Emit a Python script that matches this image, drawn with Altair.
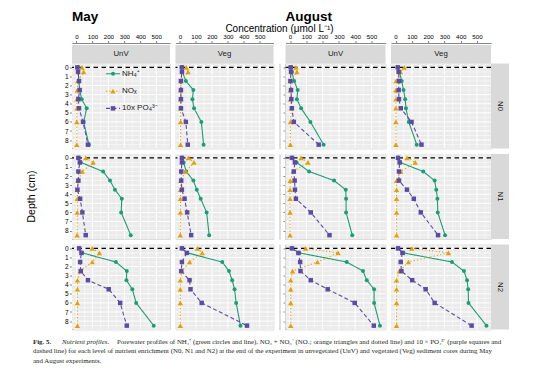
import altair as alt
import pandas as pd

# ---------------- data ----------------
depths = [0, 0.5, 1.5, 2.5, 3.5, 4.5, 6, 8.5]
months = ["May", "August"]
treatments = ["UnV", "Veg"]
levels = ["N0", "N1", "N2"]
series_names = ["NH₄⁺", "NOₓ", "10x PO₄³⁻"]

may_unv_n0_nh4 = [5, 10, 15, 20, 33, 64, 45, 78]
may_unv_n0_nox = [35, 45, 8, 5, 3, 3, 2, 2]
may_unv_n0_po4 = [6, 10, 16, 20, 12, 16, 41, 72]
may_veg_n0_nh4 = [10, 15, 37, 84, 78, 88, 134, 148]
may_veg_n0_nox = [39, 51, 6, 4, 4, 4, 4, 4]
may_veg_n0_po4 = [12, 12, 6, 6, 6, 6, 37, 49]
aug_unv_n0_nh4 = [4, 11, 25, 47, 42, 68, 125, 206]
aug_unv_n0_nox = [36, 42, 2, 2, 2, 8, 2, 2]
aug_unv_n0_po4 = [4, 6, 2, 6, 8, 11, 23, 176]
aug_veg_n0_nh4 = [13, 23, 38, 49, 59, 64, 81, 130]
aug_veg_n0_nox = [53, 30, 3, 2, 2, 2, 2, 2]
aug_veg_n0_po4 = [13, 19, 21, 19, 21, 32, 98, 159]

may_unv_n1_nh4 = [12, 27, 167, 210, 241, 284, 280, 340]
may_unv_n1_nox = [58, 105, 37, 8, 5, 5, 5, 4]
may_unv_n1_po4 = [12, 21, 12, 12, 6, 23, 37, 58]
may_veg_n1_nh4 = [12, 23, 39, 84, 105, 130, 167, 183]
may_veg_n1_nox = [53, 88, 37, 4, 3, 3, 3, 2]
may_veg_n1_po4 = [12, 12, 8, 8, 12, 29, 45, 70]
aug_unv_n1_nh4 = [11, 40, 117, 270, 342, 344, 344, 382]
aug_unv_n1_nox = [68, 110, 19, 1, 0, 0, 0, 0]
aug_unv_n1_po4 = [11, 30, 23, 28, 30, 36, 127, 242]
aug_veg_n1_nh4 = [15, 28, 170, 240, 250, 257, 259, 304]
aug_veg_n1_nox = [70, 121, 32, 6, 6, 6, 6, 6]
aug_veg_n1_po4 = [15, 25, 21, 21, 70, 112, 155, 261]

may_unv_n2_nh4 = [16, 37, 247, 315, 313, 350, 374, 484]
may_unv_n2_nox = [99, 144, 99, 23, 6, 6, 6, 6]
may_unv_n2_po4 = [16, 31, 23, 27, 72, 202, 274, 315]
may_veg_n2_nh4 = [12, 47, 265, 307, 327, 342, 352, 379]
may_veg_n2_nox = [109, 140, 60, 12, 2, 2, 2, 2]
may_veg_n2_po4 = [12, 43, 12, 8, 60, 66, 136, 420]
aug_unv_n2_nh4 = [11, 57, 348, 448, 471, 516, 516, 552]
aug_unv_n2_nox = [96, 295, 168, 15, 4, 4, 4, 4]
aug_unv_n2_po4 = [11, 51, 62, 64, 127, 231, 397, 514]
aug_veg_n2_nh4 = [15, 49, 346, 420, 439, 446, 448, 558]
aug_veg_n2_nox = [100, 325, 79, 23, 6, 6, 6, 6]
aug_veg_n2_po4 = [15, 42, 32, 36, 102, 185, 240, 467]

x_ticks = [0, 100, 200, 300, 400, 500]
y_ticks = [0, 1, 2, 3, 4, 5, 6, 7, 8]
x_grid_major = [0, 100, 200, 300, 400, 500]
x_grid_minor = [50, 150, 250, 350, 450, 550]
y_grid_major = [0, 1, 2, 3, 4, 5, 6, 7, 8]
y_grid_minor = [0.5, 1.5, 2.5, 3.5, 4.5, 5.5, 6.5, 7.5, 8.5]
surface_depth = [0]

x_title = "Concentration (μmol L⁻¹)"
y_title = "Depth (cm)"
caption_fig = "Fig. 5."
caption_head = "Nutrient profiles."
caption_l1 = ("Porewater profiles of NH₄⁺ (green circles and line), NO₂ + NO₃⁻ (NOₓ; orange "
              "triangles and dotted line) and 10 × PO₄³⁻ (purple squares and")
caption_l2 = ("dashed line) for each level of nutrient enrichment (N0, N1 and N2) at the end of the "
              "experiment in unvegetated (UnV) and vegetated (Veg) sediment cores during May")
caption_l3 = "and August experiments."

DATA = {
    ("May", "UnV", "N0"): (may_unv_n0_nh4, may_unv_n0_nox, may_unv_n0_po4),
    ("May", "Veg", "N0"): (may_veg_n0_nh4, may_veg_n0_nox, may_veg_n0_po4),
    ("August", "UnV", "N0"): (aug_unv_n0_nh4, aug_unv_n0_nox, aug_unv_n0_po4),
    ("August", "Veg", "N0"): (aug_veg_n0_nh4, aug_veg_n0_nox, aug_veg_n0_po4),
    ("May", "UnV", "N1"): (may_unv_n1_nh4, may_unv_n1_nox, may_unv_n1_po4),
    ("May", "Veg", "N1"): (may_veg_n1_nh4, may_veg_n1_nox, may_veg_n1_po4),
    ("August", "UnV", "N1"): (aug_unv_n1_nh4, aug_unv_n1_nox, aug_unv_n1_po4),
    ("August", "Veg", "N1"): (aug_veg_n1_nh4, aug_veg_n1_nox, aug_veg_n1_po4),
    ("May", "UnV", "N2"): (may_unv_n2_nh4, may_unv_n2_nox, may_unv_n2_po4),
    ("May", "Veg", "N2"): (may_veg_n2_nh4, may_veg_n2_nox, may_veg_n2_po4),
    ("August", "UnV", "N2"): (aug_unv_n2_nh4, aug_unv_n2_nox, aug_unv_n2_po4),
    ("August", "Veg", "N2"): (aug_veg_n2_nh4, aug_veg_n2_nox, aug_veg_n2_po4),
}

# ---------------- styles ----------------
SANS = "Liberation Sans"
SERIF = "Liberation Serif"
COLORS = ["#1B9E77", "#E69F00", "#5B4BA3"]
DASHES = [[1, 0], [1.2, 2.2], [4, 2.5]]
SHAPES = ["circle", "triangle-up", "square"]
SIZES = [16, 28, 20]
H = 85
STRIP = 18.5
X_DOMAIN = [-28, 586]
Y_DOMAIN = [-0.425, 8.925]
WIDTHS = {"May": 98, "August": 100}


def one(text):
    return pd.DataFrame({"t": [text]})


def panel(month, trt, level):
    W = WIDTHS[month]
    nh4, nox, po4 = DATA[(month, trt, level)]
    row = levels.index(level)
    col = treatments.index(trt)

    xs = alt.Scale(domain=X_DOMAIN, nice=False, zero=False)
    ys = alt.Scale(domain=Y_DOMAIN, nice=False, zero=False, reverse=True)
    if row == 0:
        ax_x = alt.Axis(orient="top", values=x_ticks, offset=STRIP + 2, tickSize=2.5,
                        labelPadding=1, labelFontSize=6.2, format="d", labelFlush=False,
                        labelOverlap=False)
    else:
        ax_x = None
    if col == 0 and month == "May":
        ax_y = alt.Axis(values=y_ticks, tickSize=2.5, labelPadding=1.5, labelFontSize=6.5,
                        format="d")
    elif col == 0:
        ax_y = alt.Axis(values=y_ticks, tickSize=2.5, labels=False)
    else:
        ax_y = None

    def X(f):
        return alt.X(f, type="quantitative", scale=xs, axis=ax_x, title=None)

    def Y(f):
        return alt.Y(f, type="quantitative", scale=ys, axis=ax_y, title=None)

    layers = []
    # panel background
    layers.append(alt.Chart(one("bg")).mark_rect(color="#EBEBEB").encode(
        x=alt.value(0), x2=alt.value(W), y=alt.value(0), y2=alt.value(H)))
    # grid
    layers.append(alt.Chart(pd.DataFrame({"g": x_grid_minor})).mark_rule(color="white", strokeWidth=0.5).encode(x=X("g")))
    layers.append(alt.Chart(pd.DataFrame({"g": y_grid_minor})).mark_rule(color="white", strokeWidth=0.5).encode(y=Y("g")))
    layers.append(alt.Chart(pd.DataFrame({"g": x_grid_major})).mark_rule(color="white", strokeWidth=1).encode(x=X("g")))
    layers.append(alt.Chart(pd.DataFrame({"g": y_grid_major})).mark_rule(color="white", strokeWidth=1).encode(y=Y("g")))
    # surface line
    layers.append(alt.Chart(pd.DataFrame({"g": surface_depth})).mark_rule(
        color="black", strokeWidth=1.1, strokeDash=[4.5, 3.5]).encode(y=Y("g")))

    for i, vals in enumerate([nh4, nox, po4]):
        d = pd.DataFrame({"depth": depths, "value": vals})
        layers.append(alt.Chart(d).mark_line(color=COLORS[i], strokeWidth=1.1,
                                             strokeDash=DASHES[i]).encode(
            x=X("value"), y=Y("depth"), order=alt.Order("depth:Q")))
    for i, vals in enumerate([nh4, nox, po4]):
        d = pd.DataFrame({"depth": depths, "value": vals})
        layers.append(alt.Chart(d).mark_point(color=COLORS[i], shape=SHAPES[i], filled=True,
                                              opacity=1, size=SIZES[i]).encode(
            x=X("value"), y=Y("depth")))

    # column strip
    if row == 0:
        layers.append(alt.Chart(one(trt)).mark_rect(color="#D9D9D9").encode(
            x=alt.value(0), x2=alt.value(W), y=alt.value(-STRIP), y2=alt.value(0)))
        layers.append(alt.Chart(one(trt)).mark_text(font=SANS, fontSize=7.8, color="#1A1A1A",
                                                    baseline="middle").encode(
            text="t:N", x=alt.value(W / 2), y=alt.value(-STRIP / 2)))
        if col == 0:
            layers.append(alt.Chart(one(month)).mark_text(font=SANS, fontSize=13.5, fontWeight="bold",
                                                          color="black", align="left").encode(
                text="t:N", x=alt.value(0), y=alt.value(-46.5)))
        if month == "May" and col == 1:
            layers.append(alt.Chart(one(x_title)).mark_text(font=SANS, fontSize=10, color="black").encode(
                text="t:N", x=alt.value(W + 6), y=alt.value(-34.5)))
        if month == "May" and col == 0:
            for i in range(3):
                yy = 10.3 + 17.3 * i
                layers.append(alt.Chart(one(series_names[i])).mark_rule(
                    color=COLORS[i], strokeWidth=1.1, strokeDash=DASHES[i]).encode(
                    x=alt.value(34), x2=alt.value(48), y=alt.value(yy)))
                layers.append(alt.Chart(one(series_names[i])).mark_point(
                    color=COLORS[i], shape=SHAPES[i], filled=True, opacity=1, size=SIZES[i]).encode(
                    x=alt.value(41), y=alt.value(yy)))
                layers.append(alt.Chart(one(series_names[i])).mark_text(
                    font=SANS, fontSize=8, color="#1A1A1A", align="left", baseline="middle").encode(
                    text="t:N", x=alt.value(50), y=alt.value(yy)))
    # row strip
    if month == "August" and col == 1:
        layers.append(alt.Chart(one(level)).mark_rect(color="#D9D9D9").encode(
            x=alt.value(W), x2=alt.value(W + 18), y=alt.value(0), y2=alt.value(H)))
        layers.append(alt.Chart(one(level)).mark_text(font=SANS, fontSize=7.8, color="#1A1A1A",
                                                      angle=90, baseline="middle").encode(
            text="t:N", x=alt.value(W + 9), y=alt.value(H / 2)))
    # y title
    if month == "May" and col == 0 and row == 1:
        layers.append(alt.Chart(one(y_title)).mark_text(font=SANS, fontSize=10.5, color="black",
                                                        angle=270, baseline="middle").encode(
            text="t:N", x=alt.value(-40), y=alt.value(H / 2)))
    # caption
    if month == "May" and col == 0 and row == 2:
        cap = dict(font=SERIF, fontSize=6.9, color="#231F20", align="left")
        layers.append(alt.Chart(one(caption_fig)).mark_text(fontWeight="bold", **cap).encode(
            text="t:N", x=alt.value(-39), y=alt.value(97)))
        layers.append(alt.Chart(one(caption_head)).mark_text(fontStyle="italic", **cap).encode(
            text="t:N", x=alt.value(-10), y=alt.value(97)))
        layers.append(alt.Chart(one(caption_l1)).mark_text(**cap).encode(
            text="t:N", x=alt.value(45), y=alt.value(97)))
        layers.append(alt.Chart(one(caption_l2)).mark_text(**cap).encode(
            text="t:N", x=alt.value(-39), y=alt.value(106.5)))
        layers.append(alt.Chart(one(caption_l3)).mark_text(**cap).encode(
            text="t:N", x=alt.value(-39), y=alt.value(116)))

    return alt.layer(*layers).properties(width=W, height=H)


def spacer():
    return alt.Chart(one("")).mark_point(opacity=0).encode(
        x=alt.value(0), y=alt.value(0)).properties(width=1, height=H)


cells = []
for lv in levels:
    cells += [panel("May", "UnV", lv), panel("May", "Veg", lv), spacer(),
              panel("August", "UnV", lv), panel("August", "Veg", lv)]

chart = alt.concat(*cells, columns=5, spacing={"row": 5.5, "column": 5.5}, bounds="flush").properties(
    padding={"left": 18, "top": 1.5, "right": 4, "bottom": 4}
).configure_view(stroke="transparent", fill="transparent").configure_axis(
    domain=False, grid=False, tickColor="#333333", tickWidth=0.8,
    labelColor="#4D4D4D", labelFont=SANS
).configure(background="white")

chart.save("out.html", embed_options={"renderer": "svg", "actions": False})
